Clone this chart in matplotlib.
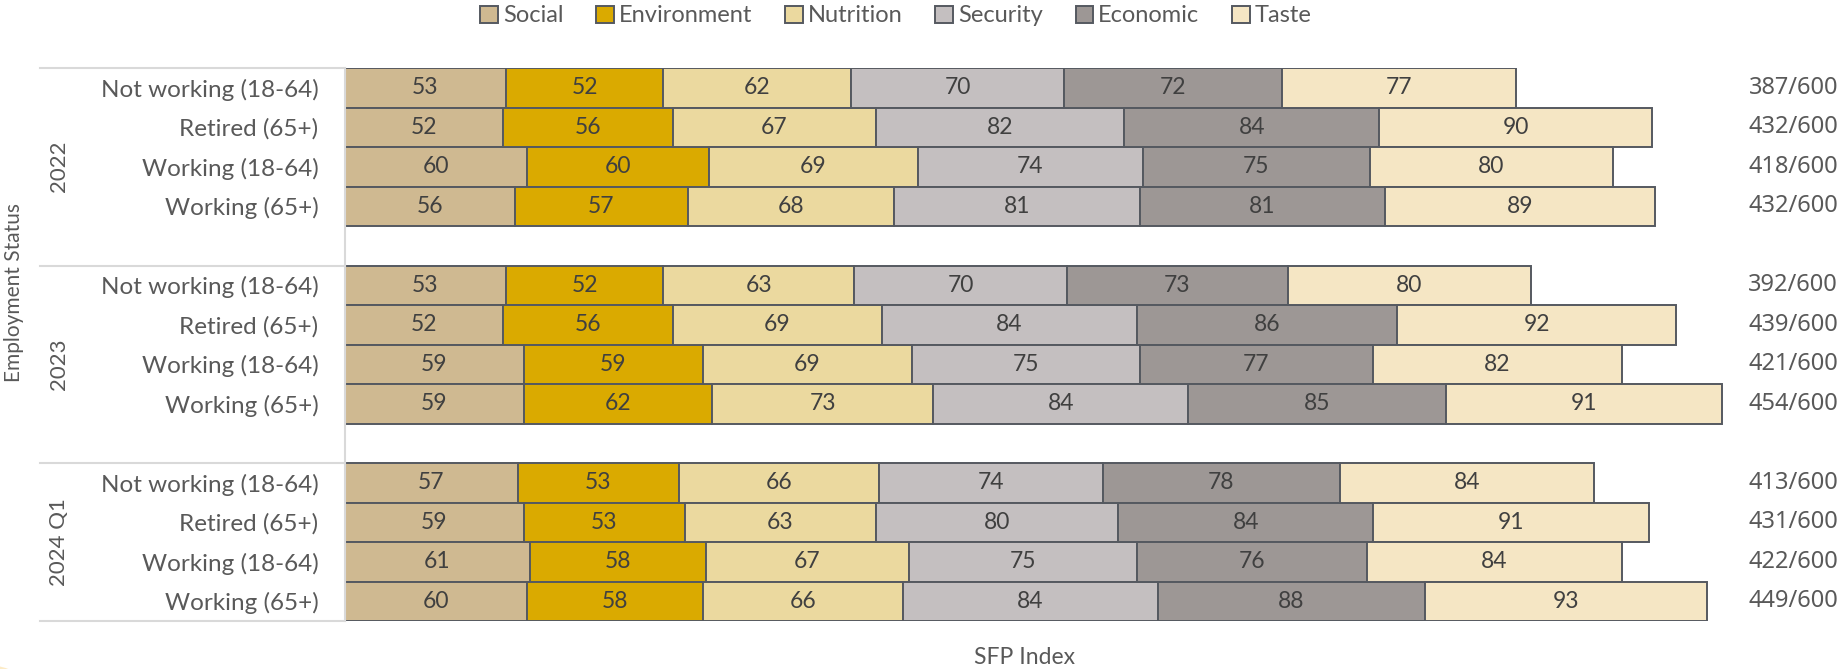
import numpy as np
import matplotlib
matplotlib.use('Agg')
import matplotlib.pyplot as plt
from matplotlib.patches import Patch, Ellipse
from matplotlib.transforms import blended_transform_factory

plt.rcParams['font.family'] = ['Lato', 'DejaVu Sans']

# SFP index components by employment status and survey period
periods = ['2022', '2023', '2024 Q1']
groups = ['Not working (18-64)', 'Retired (65+)', 'Working (18-64)', 'Working (65+)']
factors = ['Social', 'Environment', 'Nutrition', 'Security', 'Economic', 'Taste']
colors = ['#CFB991', '#DAAA00', '#EBD99F', '#C4BFC0', '#9D9795', '#F5E6C4']

social      = [53, 52, 60, 56,  53, 52, 59, 59,  57, 59, 61, 60]
environment = [52, 56, 60, 57,  52, 56, 59, 62,  53, 53, 58, 58]
nutrition   = [62, 67, 69, 68,  63, 69, 69, 73,  66, 63, 67, 66]
security    = [70, 82, 74, 81,  70, 84, 75, 84,  74, 80, 75, 84]
economic    = [72, 84, 75, 81,  73, 86, 77, 85,  78, 84, 76, 88]
taste       = [77, 90, 80, 89,  80, 92, 82, 91,  84, 91, 84, 93]
totals = ['387/600', '432/600', '418/600', '432/600',
          '392/600', '439/600', '421/600', '454/600',
          '413/600', '431/600', '422/600', '449/600']

series = [social, environment, nutrition, security, economic, taste]

TXT = '#595959'
W, H = 1844, 669

fig = plt.figure(figsize=(W / 100, H / 100), dpi=100)
ax = fig.add_axes([345 / W, 1 - 621 / H, (1740 - 345) / W, 553 / H])

# each period gets 4 rows plus a blank slot (none after the last one)
ypos = []
for g in range(len(periods)):
    for r in range(len(groups)):
        ypos.append(g * 5 + r)
ypos = np.array(ypos)

left = np.zeros(len(ypos))
for name, vals, c in zip(factors, series, colors):
    vals = np.array(vals)
    ax.barh(ypos, vals, left=left, height=1.0, color=c, edgecolor='#555960',
            linewidth=1.4, label=name)
    for y, l, v in zip(ypos, left, vals):
        ax.text(l + v / 2, y, str(v), ha='center', va='center',
                fontsize=16.5, color='#404040')
    left += vals

ax.set_xlim(0, 460)
ax.set_ylim(13.5, -0.5)
ax.set_yticks(ypos)
ax.set_yticklabels(groups * len(periods), fontsize=17.5, color=TXT)
ax.tick_params(axis='y', length=0, pad=19)
ax.set_xticks([])
for s in ['top', 'right', 'bottom']:
    ax.spines[s].set_visible(False)
ax.spines['left'].set_color('#D9D9D9')
ax.spines['left'].set_linewidth(1.5)

fy = blended_transform_factory(fig.transFigure, ax.transData)

# period separators and labels
for g, p in enumerate(periods):
    top = g * 5 - 0.5
    bottom = top + (5 if g < len(periods) - 1 else 4)
    ax.plot([40 / W, 345 / W], [top, top], transform=fy, color='#D9D9D9',
            lw=1.5, clip_on=False)
    ax.text(59 / W, (top + bottom) / 2, p, transform=fy, rotation=90,
            ha='center', va='center', fontsize=16, color=TXT)
ax.plot([40 / W, 345 / W], [13.5, 13.5], transform=fy, color='#D9D9D9',
        lw=1.5, clip_on=False)

# row totals on the right
for y, t in zip(ypos, totals):
    ax.text(1838 / W, y, t, transform=fy, ha='right', va='center',
            fontsize=17, color=TXT, family=['Noto Sans', 'DejaVu Sans'])

fig.text(14 / W, 1 - 292 / H, 'Employment Status', rotation=90, ha='center',
         va='center', fontsize=15, color=TXT)
fig.text(1024 / W, 1 - 657 / H, 'SFP Index', ha='center', va='center',
         fontsize=16.5, color=TXT)

handles = [Patch(facecolor=c, edgecolor='#555960', linewidth=1.4, label=f)
           for f, c in zip(factors, colors)]
fig.legend(handles=handles, loc='center', bbox_to_anchor=(896 / W, 1 - 16 / H),
           ncol=6, frameon=False, fontsize=17, labelcolor=TXT,
           handlelength=0.75, handleheight=0.75, handletextpad=0.2,
           columnspacing=1.4)

# small decorative swoosh in the lower left corner
fig.patches.append(Ellipse((-20 / W, -30 / H), 110 / W, 70 / H,
                           transform=fig.transFigure, facecolor='#FCE6B8',
                           edgecolor='none', alpha=0.8))

fig.savefig('out.png', dpi=100)
